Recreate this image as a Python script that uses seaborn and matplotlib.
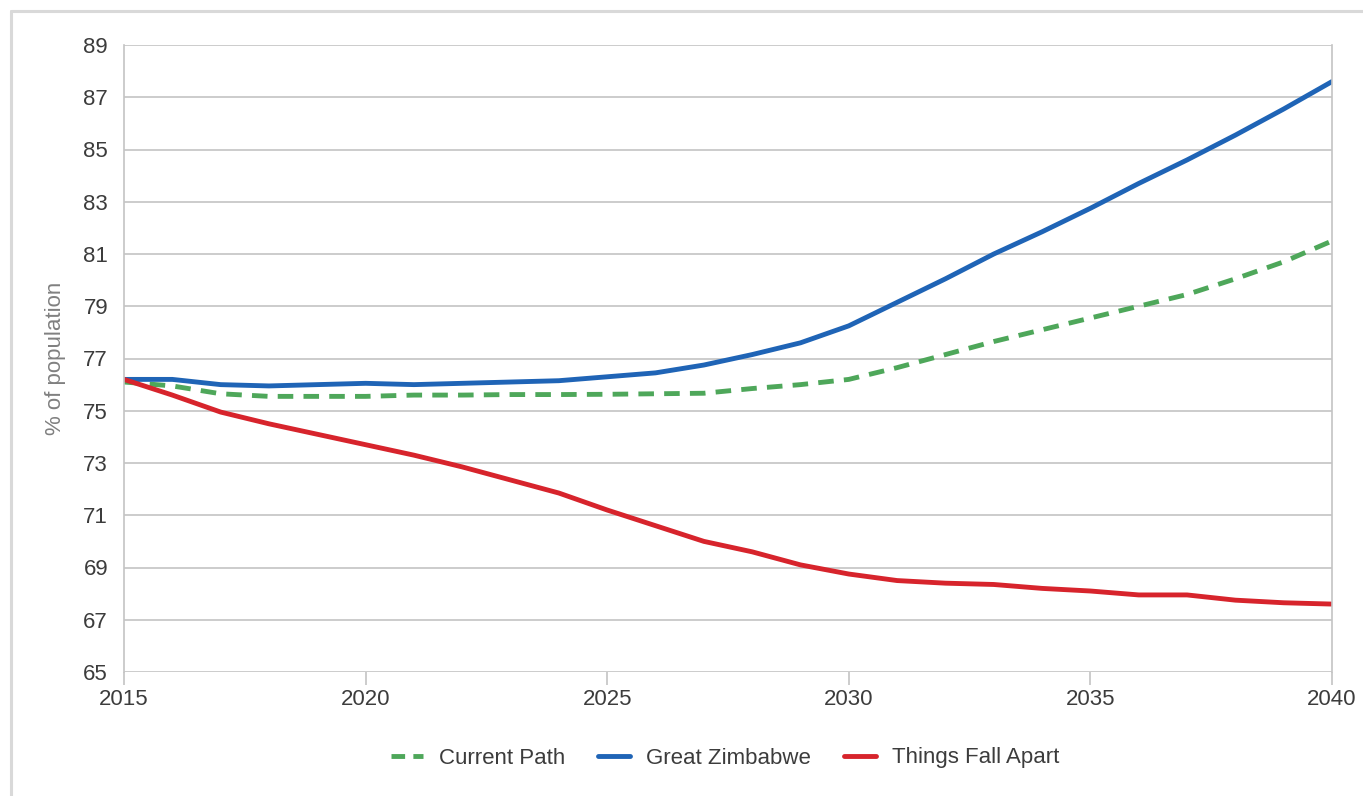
import pandas as pd
import matplotlib.pyplot as plt
import seaborn as sns
from matplotlib.lines import Line2D


# Chart data
years = list(range(2015, 2041))

current_path = [76.1, 75.95, 75.65, 75.55, 75.55, 75.55, 75.6, 75.6, 75.62, 75.62,
                75.63, 75.65, 75.67, 75.85, 76.0, 76.2, 76.65, 77.15, 77.65, 78.1,
                78.55, 79.0, 79.45, 80.05, 80.7, 81.5]
great_zimbabwe = [76.2, 76.2, 76.0, 75.95, 76.0, 76.05, 76.0, 76.05, 76.1, 76.15,
                  76.3, 76.45, 76.75, 77.15, 77.6, 78.25, 79.15, 80.05, 81.0, 81.85,
                  82.75, 83.7, 84.6, 85.55, 86.55, 87.6]
things_fall_apart = [76.2, 75.6, 74.95, 74.5, 74.1, 73.7, 73.3, 72.85, 72.35, 71.85,
                     71.2, 70.6, 70.0, 69.6, 69.1, 68.75, 68.5, 68.4, 68.35, 68.2,
                     68.1, 67.95, 67.95, 67.75, 67.65, 67.6]

scenarios = ['Current Path', 'Great Zimbabwe', 'Things Fall Apart']
colors = {'Current Path': '#4ea75a', 'Great Zimbabwe': '#1f64b6', 'Things Fall Apart': '#d7242c'}
y_ticks = list(range(65, 90, 2))
x_ticks = [2015, 2020, 2025, 2030, 2035, 2040]

df = pd.DataFrame({
    'year': years * 3,
    'value': current_path + great_zimbabwe + things_fall_apart,
    'scenario': [s for s in scenarios for _ in years],
})

sns.set_theme(style='white')
plt.rcParams['font.family'] = ['Liberation Sans', 'DejaVu Sans']

fig = plt.figure(figsize=(13.63, 7.96), dpi=100)
ax = fig.add_axes([124 / 1363, 124 / 796, (1332 - 124) / 1363, (672 - 45) / 796])

lw = 3.5
sns.lineplot(
    data=df, x='year', y='value',
    hue='scenario', style='scenario',
    palette=colors,
    dashes={'Current Path': (3.2, 2.1), 'Great Zimbabwe': '', 'Things Fall Apart': ''},
    linewidth=lw, legend=False, ax=ax,
)

# Axes styling
grid_col = '#c4c4c4'
txt_col = '#3c3c3c'
fs = 16
ax.set_xlim(2015, 2040)
ax.set_ylim(65, 89)
ax.set_yticks(y_ticks)
ax.set_xticks(x_ticks)
ax.yaxis.grid(True, color=grid_col, linewidth=1.2)
ax.xaxis.grid(False)
ax.set_axisbelow(True)
for side in ['left', 'right']:
    ax.spines[side].set_color(grid_col)
    ax.spines[side].set_linewidth(1.2)
ax.spines['top'].set_visible(False)
ax.spines['bottom'].set_visible(False)
ax.tick_params(axis='y', length=0, pad=11.5, labelsize=fs, labelcolor=txt_col)
ax.tick_params(axis='x', length=9, width=1.2, color=grid_col, direction='out',
               bottom=True, pad=3, labelsize=fs, labelcolor=txt_col)
ax.set_xlabel('')
ax.set_ylabel('% of population', fontsize=fs, color='#808080', labelpad=12)

# Legend below the plot
handles = [
    Line2D([], [], color=colors['Current Path'], lw=lw, linestyle=(0, (2.8, 1.7))),
    Line2D([], [], color=colors['Great Zimbabwe'], lw=lw),
    Line2D([], [], color=colors['Things Fall Apart'], lw=lw),
]
fig.legend(handles, scenarios, loc='center', bbox_to_anchor=(725 / 1363, 1 - 758 / 796),
           ncol=3, frameon=False, fontsize=fs, labelcolor=txt_col,
           handlelength=1.45, handletextpad=0.7, columnspacing=1.5)

# Light outer frame (top and left edges)
frame_col = '#d9d9d9'
fig.add_artist(Line2D([11 / 1363, 11 / 1363], [0, 1 - 11 / 796], color=frame_col, lw=2.2,
                      transform=fig.transFigure))
fig.add_artist(Line2D([11 / 1363, 1], [1 - 11 / 796, 1 - 11 / 796], color=frame_col, lw=2.2,
                      transform=fig.transFigure))

fig.savefig('out.png', dpi=100)
